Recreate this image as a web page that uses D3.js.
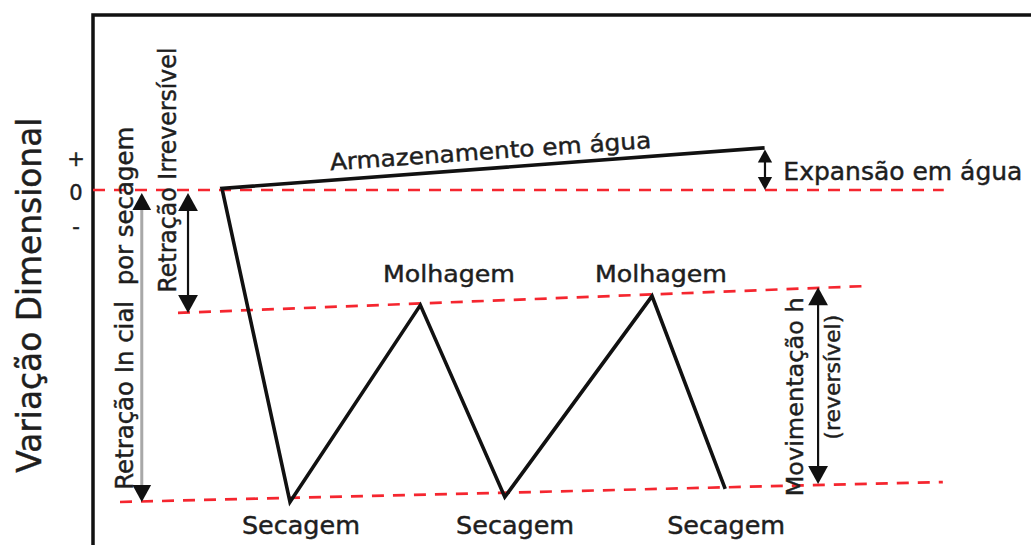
<!DOCTYPE html>
<html>
<head>
<meta charset="utf-8">
<script src="https://cdn.jsdelivr.net/npm/d3@7"></script>
<style>
  body { margin: 0; background: #fff; }
  text { font-family: "DejaVu Sans", sans-serif; fill: #1e1e1e; stroke: #1e1e1e; stroke-width: 0.45px; white-space: pre; }
</style>
</head>
<body>
<div id="chart"></div>
<script>
// curve: storage in water, then drying / wetting cycles
var curveT = [71.6, 13.75, 21.0, 34.9, 43.9, 59.6, 67.4];
var curveV = [1.35, 0.05, -10.0, -3.69, -9.84, -3.40, -9.58];

// red dashed reference lines
var refT1 = [0, 9.06, 2.88];
var refV1 = [0, -3.94, -10.0];
var refT2 = [90.7, 82.3, 90.6];
var refV2 = [0, -3.08, -9.36];

// double arrows
var arrowT  = [5.2, 10.13, 71.64, 77.3];
var arrowV1 = [-0.1, -0.1, 1.3, -3.12];
var arrowV2 = [-10.0, -3.94, 0, -9.42];
var arrowGray = [true, false, false, false];
var arrowHead = [17, 18, 13, 18];

// y tick labels
var tickLabels = ["+", "0", "-"];
var tickValues = [1.0, -0.1, -1.2];

// labels
var labelText = ["Armazenamento em água", "Expansão em água", "Molhagem", "Molhagem",
                 "Secagem", "Secagem", "Secagem",
                 "Variação Dimensional", "Retração In cial  por secagem", "Retração Irreversível",
                 "Movimentação h", "(reversível)"];
var labelT = [42.43, 73.6, 37.95, 60.55, 22.17, 45.0, 67.5, -5.54, 4.26, 8.85, 75.7, 79.6];
var labelV = [0.99, 0.32, -2.95, -2.95, -11.03, -11.03, -11.03, -3.37, -3.79, 0.64, -6.63, -6.0];

var width = 1031, height = 545;

var svg = d3.select("#chart")
  .append("svg")
    .attr("width", width)
    .attr("height", height);

var x = d3.scaleLinear().domain([0, 100]).range([93, 1031]);
var y = d3.scaleLinear().domain([-10, 0]).range([502, 190]);

// frame
svg.append("path")
  .attr("d", "M" + x(0) + "," + height + "V15H" + width)
  .attr("fill", "none")
  .attr("stroke", "#111")
  .attr("stroke-width", 3.5);

// reference lines
svg.selectAll(".ref")
  .data(refT1)
  .enter()
  .append("line")
    .attr("x1", function(d, i) { return x(refT1[i]); })
    .attr("y1", function(d, i) { return y(refV1[i]); })
    .attr("x2", function(d, i) { return x(refT2[i]); })
    .attr("y2", function(d, i) { return y(refV2[i]); })
    .attr("stroke", "#f5262f")
    .attr("stroke-width", 2.7)
    .attr("stroke-dasharray", "12,9");

// main curve
var line = d3.line()
  .x(function(d, i) { return x(curveT[i]); })
  .y(function(d, i) { return y(curveV[i]); });

svg.append("path")
  .datum(curveT)
  .attr("d", line)
  .attr("fill", "none")
  .attr("stroke", "#111")
  .attr("stroke-width", 3.6)
  .attr("stroke-linejoin", "miter");

// arrows
arrowT.forEach(function(t, i) {
  var ax = x(t), ya = y(arrowV1[i]), yb = y(arrowV2[i]);
  var h = arrowHead[i], w = h * 0.55;
  var top = Math.min(ya, yb), bot = Math.max(ya, yb);
  svg.append("line")
    .attr("x1", ax).attr("x2", ax)
    .attr("y1", top + h - 2).attr("y2", bot - h + 2)
    .attr("stroke", arrowGray[i] ? "#a8a8a8" : "#111")
    .attr("stroke-width", arrowGray[i] ? 3 : 2.2);
  svg.append("path")
    .attr("d", "M" + ax + "," + top + "L" + (ax - w) + "," + (top + h) + "L" + (ax + w) + "," + (top + h) + "Z")
    .attr("fill", "#111");
  svg.append("path")
    .attr("d", "M" + ax + "," + bot + "L" + (ax - w) + "," + (bot - h) + "L" + (ax + w) + "," + (bot - h) + "Z")
    .attr("fill", "#111");
});

// y ticks
svg.selectAll(".tick")
  .data(tickLabels)
  .enter()
  .append("text")
    .attr("x", 76)
    .attr("y", function(d, i) { return y(tickValues[i]); })
    .attr("text-anchor", "middle")
    .attr("dominant-baseline", "central")
    .style("font-size", "21px")
    .text(function(d) { return d; });

// labels
var labelSize = [23, 25, 23, 23, 24, 24, 24, 33, 24, 24, 23, 22];
var labelLen  = [322, 239, 132, 132, 118, 118, 118, 355, 363, 245, 199, 125];
var labelRot  = [-4, 0, 0, 0, 0, 0, 0, -90, -90, -90, -90, -90];
var labelAnchor = ["middle", "start", "middle", "middle", "middle", "middle", "middle",
                   "middle", "middle", "middle", "middle", "middle"];

labelText.forEach(function(s, i) {
  var lx = x(labelT[i]), ly = y(labelV[i]);
  svg.append("text")
    .attr("transform", "translate(" + lx + "," + ly + ") rotate(" + labelRot[i] + ")")
    .attr("text-anchor", labelAnchor[i])
    .attr("textLength", labelLen[i])
    .attr("lengthAdjust", "spacingAndGlyphs")
    .style("font-size", labelSize[i] + "px")
    .text(s);
});
</script>
</body>
</html>
